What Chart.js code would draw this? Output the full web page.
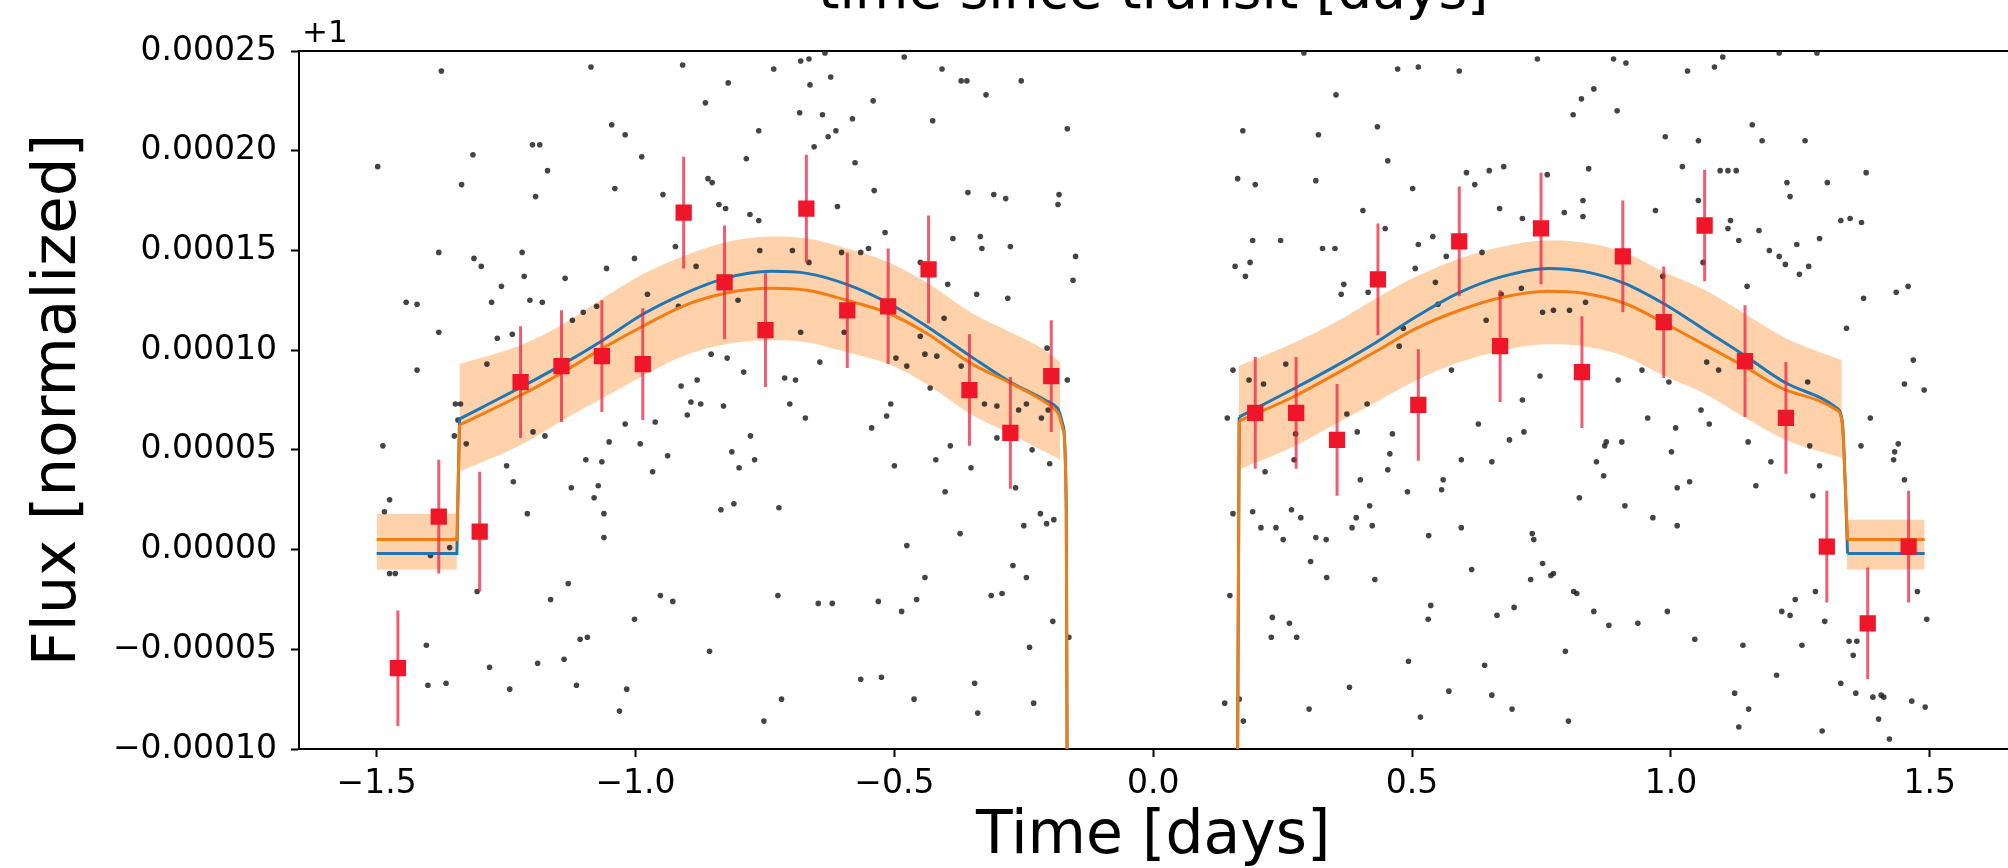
<!DOCTYPE html>
<html>
<head>
<meta charset="utf-8">
<script src="https://cdn.jsdelivr.net/npm/chart.js@4.4.0/dist/chart.umd.min.js"></script>
<style>
  html, body { margin: 0; padding: 0; background: #fff; overflow: hidden; width: 2008px; height: 868px; }
  #wrap { position: absolute; left: 0; top: -40px; }
</style>
</head>
<body>
<div id="wrap"><canvas id="lc" width="2019" height="919"></canvas></div>
<script>
// all flux values are (flux - 1) in units of 1e-5

// unbinned photometry
const obsTime = [
  -1.375,-1.086,-0.909,-0.733,-0.681,-0.665,-0.634,-0.481,-0.408,-0.371,-0.360,-0.323,-0.255,-0.821,-0.663,-0.623,-0.865,-0.541,-0.683,-0.639,
  -0.581,-0.426,-0.166,-1.046,-1.020,-0.762,-0.628,-0.613,-0.655,-1.199,-1.185,-1.314,-1.498,-1.170,-0.988,-0.786,-0.576,-1.336,-1.193,-1.040,
  -0.860,-0.852,-0.947,-0.539,-0.358,-0.308,-0.285,-0.182,-0.184,-0.839,-0.826,-0.779,-0.762,-0.610,-0.518,-0.387,-0.334,-0.331,-0.276,-0.150,
  -0.155,-1.380,-1.312,-1.298,-1.219,-1.002,-0.923,-0.883,-0.760,-0.697,-0.665,-0.602,-0.565,-0.550,-0.450,-0.397,-1.215,-1.136,-1.056,-1.259,
  -1.443,-1.422,-1.278,-1.204,-1.180,-1.101,-1.075,-1.122,-0.977,-0.917,-0.802,-0.341,-0.281,-0.404,-1.380,-1.267,-1.238,-0.681,-0.597,-0.450,
  -1.287,-1.422,-0.854,-0.823,-0.644,-0.497,-0.476,-0.441,-0.418,-0.205,-0.912,-0.881,-0.791,-0.712,-0.691,-0.431,-0.371,-0.166,
  -1.348,-1.338,-1.343,-1.350,-1.327,-1.488,-1.198,-1.175,-1.020,-0.962,-0.900,-0.893,-0.874,-0.830,-0.702,-0.672,-0.544,-0.515,-0.507,-0.326,
  -0.302,-0.260,-0.245,-0.216,-0.203,-0.392,-0.302,-0.234,-1.051,-0.991,-0.778,-0.814,-0.770,-0.800,-0.938,-1.096,-1.065,-1.249,-0.967,-0.500,
  -0.420,-0.352,-0.200,-1.236,-1.124,-1.072,-1.080,-1.475,-1.485,-1.209,-1.061,-0.835,-0.810,-0.723,-0.402,-0.266,-0.218,-0.250,-0.206,-0.192,
  -0.373,-1.061,-0.476,-1.396,-1.359,-1.475,-1.464,-0.271,-0.245,-0.441,-1.130,-1.306,-1.164,-0.952,-0.928,-0.725,-0.647,-0.620,-0.531,-0.457,
  -0.486,-0.313,-0.292,-1.002,-0.194,-0.163,-1.404,-1.107,-1.093,-0.857,-0.239,-1.282,-1.189,-1.138,-1.401,-1.366,-1.243,-1.114,-1.017,-0.565,
  -0.525,-0.345,-0.718,-0.462,-0.231,-1.031,-0.752,-0.339,
  0.291,0.472,0.512,0.591,0.742,0.889,0.913,1.032,1.084,1.100,1.209,1.282,0.353,0.851,0.827,0.811,0.896,0.173,0.319,0.433,
  0.989,1.053,1.157,1.176,1.259,0.453,0.163,0.197,0.314,0.501,0.605,0.649,0.677,0.621,0.761,0.841,1.022,1.095,1.110,1.126,
  1.224,1.302,1.377,1.230,0.405,0.669,0.713,0.794,0.830,0.830,0.970,1.053,1.115,1.110,1.170,1.328,1.346,1.368,0.448,0.192,
  0.246,0.327,0.351,0.512,0.540,0.566,0.635,1.131,1.190,1.209,1.221,1.243,1.287,1.248,1.266,0.158,0.187,0.178,0.506,0.545,
  0.368,0.363,0.415,0.984,1.062,1.147,1.372,1.435,1.458,0.672,0.711,0.752,0.773,0.804,0.835,0.643,0.550,0.483,0.475,1.339,
  1.468,0.154,0.185,0.213,0.256,0.576,0.747,0.898,0.944,0.996,1.069,1.092,1.264,1.451,1.489,0.713,
  0.143,0.374,0.413,0.628,0.716,0.955,1.058,1.074,1.009,1.385,0.275,0.394,0.462,0.688,0.875,0.905,0.872,1.149,1.268,1.367,
  1.439,1.432,1.430,1.001,0.457,0.595,0.654,0.272,0.856,1.193,1.287,0.453,0.216,0.870,0.400,0.560,0.557,1.012,1.036,1.164,
  1.451,0.491,0.823,1.274,0.154,0.192,0.267,0.285,0.418,0.392,0.423,0.384,0.208,0.237,0.251,0.314,0.334,0.532,0.595,0.732,
  0.735,0.911,0.965,1.012,0.304,0.335,0.428,0.615,0.752,0.773,0.768,0.729,0.812,0.818,0.148,0.536,0.531,0.664,0.697,0.851,
  0.880,0.936,0.993,1.240,1.214,1.230,1.279,1.297,1.476,1.494,0.230,0.263,0.228,0.277,1.046,1.139,1.253,1.344,1.359,1.352,
  0.796,0.493,0.640,1.204,1.328,1.357,0.379,0.571,0.654,1.123,1.390,1.406,1.411,1.465,1.491,0.138,0.166,0.301,0.693,1.150,
  0.516,0.802,0.174,1.131,1.401,1.292,1.422
];
const obsFlux = [
  24.0,24.2,24.3,24.1,24.5,24.6,24.9,24.7,24.1,23.5,23.5,22.8,23.5,23.4,23.3,23.7,22.4,22.5,21.9,21.8,
  21.6,21.5,21.1,21.3,20.8,21.0,20.7,21.0,20.2,20.3,20.3,19.8,19.2,19.0,19.7,19.6,19.4,18.3,17.7,18.1,
  18.6,18.4,17.8,18.0,17.9,17.8,17.6,17.8,17.3,17.3,17.1,16.8,16.5,17.2,15.9,15.6,15.7,15.1,15.2,14.7,
  13.5,14.9,14.6,14.2,14.9,14.6,15.2,14.2,15.0,15.0,14.4,14.9,14.9,15.1,14.4,13.3,13.7,13.6,14.1,13.2,
  12.4,12.3,12.4,12.5,12.4,11.9,12.2,11.5,12.8,12.2,12.5,12.8,12.6,11.6,10.9,10.6,10.8,10.9,10.9,10.7,
  9.3,9.0,9.8,9.6,9.4,9.6,9.2,9.8,9.7,10.1,8.2,8.5,8.9,8.6,8.5,8.1,9.2,8.5,
  7.3,7.3,6.5,5.7,5.3,5.2,5.9,5.7,6.3,6.4,6.75,7.4,7.3,7.2,7.3,6.6,6.1,6.7,7.3,7.3,
  7.2,7.0,7.3,6.6,7.0,5.2,5.6,5.0,5.4,5.3,5.7,4.9,4.5,4.1,4.7,4.5,4.4,4.2,3.9,4.2,
  4.5,4.1,4.3,3.4,3.1,3.2,2.6,2.5,1.9,1.8,1.8,2.0,2.3,2.1,2.9,3.1,1.8,1.2,1.3,1.5,
  0.8,0.6,0.2,-0.3,0.1,-1.2,-1.2,-0.8,-1.4,-1.4,-1.7,-2.1,-2.5,-2.3,-2.6,-2.3,-2.7,-2.7,-2.6,-2.5,
  -3.1,-2.3,-2.2,-3.5,-3.6,-4.4,-4.8,-4.5,-4.4,-5.1,-4.9,-5.9,-5.7,-5.5,-6.8,-6.7,-7.0,-6.8,-7.0,-6.5,
  -6.4,-6.7,-7.5,-7.5,-7.7,-8.1,-8.6,-8.2,
  24.9,24.1,24.2,24.0,24.6,24.6,24.4,24.0,24.2,24.7,24.9,24.9,22.8,23.1,22.6,21.8,22.0,21.0,20.8,21.2,
  20.7,20.5,21.3,20.5,20.5,19.5,18.6,18.3,18.5,18.1,18.9,19.0,19.2,18.3,18.8,19.1,19.2,19.0,19.0,19.0,
  18.4,18.4,18.9,17.7,17.0,17.1,16.6,16.9,17.5,16.7,17.0,17.5,16.5,16.1,16.0,16.5,16.6,16.4,16.1,15.5,
  15.5,15.1,15.1,15.3,15.7,14.7,14.9,15.5,15.0,14.7,14.3,15.3,15.6,13.8,14.2,14.2,14.4,13.7,14.1,13.4,
  13.3,12.8,12.9,13.7,14.4,13.2,12.6,12.9,13.2,12.8,13.1,11.9,12.0,12.0,12.4,11.5,12.3,11.1,10.2,11.1,
  9.5,9.0,8.5,8.3,9.3,9.0,8.7,8.5,9.0,8.4,9.4,9.0,8.4,8.3,8.0,7.5,
  6.6,6.8,7.3,6.3,5.9,6.6,7.0,6.3,6.1,6.6,5.8,5.9,5.8,5.5,5.4,5.4,5.2,5.4,5.2,5.2,
  5.3,4.9,4.5,4.9,4.8,4.5,4.4,4.5,4.4,4.4,4.2,4.0,3.9,3.7,3.5,3.5,3.0,3.1,3.4,3.2,
  3.5,2.9,2.6,2.7,1.8,1.9,2.0,1.6,2.2,1.6,1.2,1.1,1.1,1.1,0.5,0.6,0.5,0.7,1.1,0.8,
  0.5,2.2,1.6,1.2,-0.6,-1.4,-1.5,-1.0,-0.7,-1.2,-1.3,-1.5,-2.1,-2.2,-2.3,-2.8,-3.5,-3.3,-2.9,-3.1,
  -3.8,-3.7,-3.1,-2.5,-3.1,-3.3,-2.1,-3.6,-2.1,-3.5,-3.4,-3.7,-4.4,-4.4,-4.5,-4.8,-4.8,-4.6,-4.6,-5.3,
  -5.1,-5.6,-5.8,-6.3,-6.7,-7.2,-6.9,-7.1,-7.3,-7.2,-7.4,-7.3,-7.4,-7.6,-7.9,-7.7,-7.5,-8.0,-8.0,-8.0,
  -8.4,-8.6,-8.6,-8.9,-8.5,-9.1,-9.5
];

// binned points with 1-sigma errors
const binTime = [-1.459,-1.380,-1.301,-1.222,-1.143,-1.065,-0.986,-0.907,-0.828,-0.749,-0.670,-0.591,-0.512,-0.434,-0.355,-0.276,-0.197,
                 0.197,0.276,0.355,0.434,0.512,0.591,0.670,0.749,0.828,0.907,0.986,1.065,1.143,1.222,1.301,1.380,1.459];
const binFlux = [-5.95,1.65,0.9,8.4,9.2,9.7,9.3,16.9,13.4,11.0,17.1,12.0,12.2,14.05,8.0,5.85,8.7,
                 6.85,6.85,5.5,13.55,7.25,15.45,10.2,16.1,8.9,14.7,11.4,16.25,9.45,6.6,0.15,-3.7,0.15];
const binErr  = [2.9,2.85,3.0,2.8,2.8,2.8,2.8,2.8,2.85,2.85,2.7,2.9,2.9,2.7,2.8,2.8,2.8,
                 2.8,2.8,2.8,2.8,2.8,2.75,2.8,2.8,2.8,2.8,2.8,2.8,2.8,2.8,2.8,2.8,2.8];

// model curves: smooth phase arches, out-of-eclipse flat parts, transit edges
const leftArchTime  = [-1.340,-1.217,-1.140,-1.063,-0.986,-0.909,-0.827,-0.738,-0.669,-0.592,-0.511,-0.438,-0.353,-0.276,-0.209,-0.185,-0.174,-0.168,-0.166];
const blueLeftArch  = [6.55,8.2,9.3,10.5,11.8,12.8,13.6,13.95,13.85,13.3,12.35,11.2,9.7,8.4,7.5,7.1,6.2,2.0,-15];
const orangeLeftArch = [6.25,7.8,8.9,10.1,11.2,12.2,12.85,13.1,13.0,12.5,11.85,10.85,9.35,8.35,7.4,6.9,6.0,2.0,-15];
const rightArchTime = [0.166,0.274,0.352,0.431,0.509,0.592,0.675,0.763,0.831,0.910,0.988,1.066,1.144,1.222,1.320,1.331,1.337,1.341];
const blueRightArch = [6.65,8.1,9.2,10.4,11.7,12.9,13.7,14.1,13.95,13.35,12.3,11.0,9.7,8.35,7.1,6.4,3.0,-0.2];
const orangeRightArch = [6.45,7.7,8.8,9.95,11.1,12.0,12.65,12.95,12.85,12.35,11.35,10.25,9.15,8.0,7.0,6.3,3.0,0.5];
const flatLeftTime = [-1.50,-1.345];
const flatRightTime = [1.341,1.49];
const egressTime = 0.162;
const blueFlat = -0.2;
const orangeFlat = 0.5;

// uncertainty band pieces
const bandLeftTime = [-1.340,-1.217,-1.140,-1.063,-0.986,-0.909,-0.827,-0.738,-0.669,-0.592,-0.511,-0.438,-0.353,-0.276,-0.209,-0.180];
const bandLeftHigh = [9.3,10.3,11.3,12.6,13.8,14.7,15.4,15.7,15.6,15.1,14.4,13.4,11.9,10.9,10.0,9.4];
const bandLeftLow  = [3.9,5.3,6.5,7.6,8.7,9.7,10.3,10.5,10.4,9.9,9.3,8.3,6.8,5.8,4.9,4.5];
const bandRightTime = [0.165,0.274,0.352,0.431,0.509,0.592,0.675,0.763,0.831,0.910,0.988,1.066,1.144,1.222,1.330];
const bandRightHigh = [9.2,10.4,11.4,12.6,13.7,14.6,15.2,15.5,15.4,14.9,13.9,13.0,11.8,10.6,9.5];
const bandRightLow  = [4.0,5.2,6.3,7.4,8.5,9.4,10.0,10.3,10.2,9.7,8.7,7.8,6.6,5.5,4.6];
const flatBandTime = [[-1.50,-1.345],[1.34,1.49]];
const flatBandHigh = [1.8,1.5];
const flatBandLow  = [-1.0,-1.0];

const xTicks = [-1.5,-1.0,-0.5,0.0,0.5,1.0,1.5];
const yTicks = [-10,-5,0,5,10,15,20,25];

function pts(xs, ys) {
  return xs.map((x, i) => ({x: x, y: ys[i]}));
}

const errData = [];
binTime.forEach((t, i) => {
  errData.push({x: t, y: binFlux[i] - binErr[i]});
  errData.push({x: t, y: binFlux[i] + binErr[i]});
  errData.push({x: t, y: null});
});

function archData(left, right) {
  return pts(leftArchTime, left).concat([{x: 0, y: null}], pts(rightArchTime, right));
}
// straight pieces: flat before the left arch, egress rise, flat after the right arch
function stepData(flat, left, right) {
  return [
    {x: flatLeftTime[0], y: flat}, {x: flatLeftTime[1], y: flat}, {x: leftArchTime[0], y: left[0]},
    {x: 0, y: null},
    {x: egressTime, y: -15}, {x: rightArchTime[0], y: right[0]},
    {x: 0, y: null},
    {x: flatRightTime[0], y: flat}, {x: flatRightTime[1], y: flat}
  ];
}

const bandColor = 'rgba(255,127,14,0.35)';
function bandPair(xs, hi, lo) {
  return [
    {type: 'line', data: pts(xs, hi), borderWidth: 0, pointRadius: 0, fill: '+1', backgroundColor: bandColor, cubicInterpolationMode: 'monotone', clip: 0},
    {type: 'line', data: pts(xs, lo), borderWidth: 0, pointRadius: 0, fill: false, cubicInterpolationMode: 'monotone', clip: 0}
  ];
}

let bands = [];
bands = bands.concat(bandPair(bandLeftTime, bandLeftHigh, bandLeftLow));
bands = bands.concat(bandPair(bandRightTime, bandRightHigh, bandRightLow));
flatBandTime.forEach((xs, i) => {
  bands = bands.concat(bandPair(xs, [flatBandHigh[i], flatBandHigh[i]], [flatBandLow[i], flatBandLow[i]]));
});

function fmtMinus(s) { return s.replace('-', '\u2212'); }

Chart.defaults.font.family = 'DejaVu Sans';
Chart.defaults.color = '#000';

const offsetText = {
  id: 'offsetText',
  afterDraw(chart) {
    const ctx = chart.ctx, area = chart.chartArea;
    ctx.save();
    ctx.font = '31px "DejaVu Sans"';
    ctx.fillStyle = '#000';
    ctx.textBaseline = 'alphabetic';
    ctx.fillText('+1', area.left + 3, area.top - 9);
    ctx.restore();
  }
};

const blue = '#1f77b4', orange = '#f27d12';
const datasets = [
  {label: 'binned', data: pts(binTime, binFlux), pointStyle: 'rect', pointRadius: 11.5,
   backgroundColor: 'rgb(238,22,40)', borderWidth: 0, showLine: false},
  {type: 'line', label: 'errors', data: errData, borderColor: 'rgba(234,30,60,0.72)', borderWidth: 3,
   pointRadius: 0, spanGaps: false, tension: 0},
  {type: 'line', data: archData(orangeLeftArch, orangeRightArch), borderColor: orange, borderWidth: 3,
   pointRadius: 0, cubicInterpolationMode: 'monotone', spanGaps: false, clip: 0},
  {type: 'line', data: stepData(orangeFlat, orangeLeftArch, orangeRightArch), borderColor: orange, borderWidth: 3,
   pointRadius: 0, tension: 0, spanGaps: false, clip: 0},
  {type: 'line', data: archData(blueLeftArch, blueRightArch), borderColor: blue, borderWidth: 3,
   pointRadius: 0, cubicInterpolationMode: 'monotone', spanGaps: false, clip: 0},
  {type: 'line', data: stepData(blueFlat, blueLeftArch, blueRightArch), borderColor: blue, borderWidth: 3,
   pointRadius: 0, tension: 0, spanGaps: false, clip: 0},
  {label: 'data', data: pts(obsTime, obsFlux), pointStyle: 'circle', pointRadius: 2.8,
   backgroundColor: 'rgba(35,35,35,0.85)', borderWidth: 0, showLine: false}
].concat(bands);

new Chart(document.getElementById('lc'), {
  type: 'scatter',
  data: {datasets: datasets},
  plugins: [offsetText],
  options: {
    responsive: false,
    animation: false,
    events: [],
    layout: {padding: 0},
    plugins: {legend: {display: false}, tooltip: {enabled: false}},
    scales: {
      x: {
        type: 'linear', position: 'bottom', min: -1.65, max: 1.65,
        afterBuildTicks: (s) => { s.ticks = xTicks.map(v => ({value: v})); },
        afterFit: (s) => { s.height = 130; },
        ticks: {font: {size: 33}, color: '#000', padding: 8, autoSkip: false, maxRotation: 0,
                callback: (v) => fmtMinus(v.toFixed(1))},
        grid: {drawOnChartArea: false, drawTicks: true, tickLength: 8, tickWidth: 2, tickColor: '#000'},
        border: {display: true, color: '#000', width: 2},
        title: {display: true, text: 'Time [days]', font: {size: 60}, color: '#000', padding: {top: 0, bottom: 6}}
      },
      x2: {
        type: 'linear', axis: 'x', position: 'top', min: -1.65, max: 1.65,
        afterFit: (s) => { s.height = 91; },
        ticks: {display: false},
        grid: {display: false},
        border: {display: true, color: '#000', width: 2},
        title: {display: true, text: 'time since transit [days]', font: {size: 55}, color: '#000', padding: {top: 1, bottom: 0}}
      },
      y: {
        type: 'linear', position: 'left', min: -10, max: 25,
        afterBuildTicks: (s) => { s.ticks = yTicks.map(v => ({value: v})); },
        afterFit: (s) => { s.width = 299; },
        ticks: {font: {size: 33}, color: '#000', padding: 14,
                callback: (v) => fmtMinus((v * 1e-5).toFixed(5))},
        grid: {drawOnChartArea: false, drawTicks: true, tickLength: 8, tickWidth: 2, tickColor: '#000'},
        border: {display: true, color: '#000', width: 2},
        title: {display: true, text: 'Flux [normalized]', font: {size: 61}, color: '#000', padding: {top: 23, bottom: 0}}
      }
    }
  }
});
</script>
</body>
</html>
